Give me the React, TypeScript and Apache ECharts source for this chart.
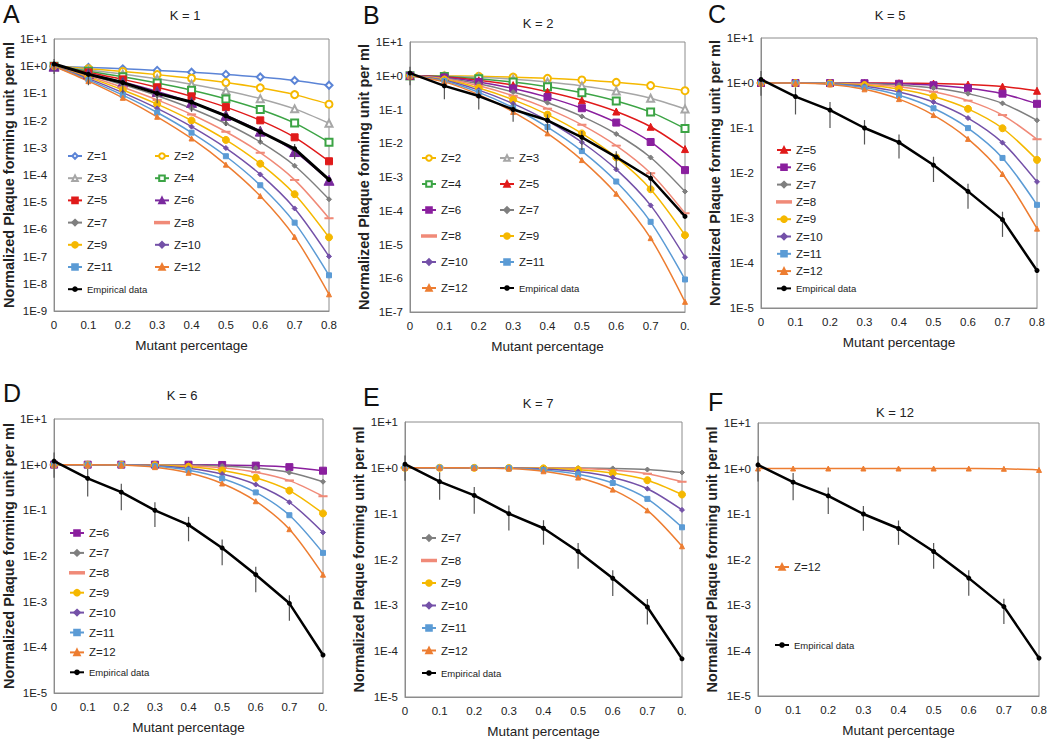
import React, { useEffect, useRef } from "react";
import * as echarts from "echarts";

// ---------- categories / tick labels ----------
const xLabelsFull = ["0", "0.1", "0.2", "0.3", "0.4", "0.5", "0.6", "0.7", "0.8"];
const xLabelsCut = ["0", "0.1", "0.2", "0.3", "0.4", "0.5", "0.6", "0.7", "0."];

// ---------- empirical data (same in every panel) ----------
const empirical = [1.2, 0.5, 0.25, 0.1, 0.048, 0.015, 0.0039, 0.00092, 0.000068];
const empiricalLow = [0.52, 0.2, 0.1, 0.043, 0.021, 0.0063, 0.0016, 0.00038, 0.000066];
const empiricalHigh = [1.85, 0.8, 0.38, 0.15, 0.072, 0.023, 0.0058, 0.00138, 0.00007];

// ---------- Panel A (K = 1) ----------
const A_Z1 = [1, 0.9, 0.8, 0.7, 0.6, 0.5, 0.4, 0.3, 0.2];
const A_Z2 = [1, 0.81, 0.64, 0.49, 0.36, 0.25, 0.16, 0.09, 0.04];
const A_Z3 = [1, 0.729, 0.512, 0.343, 0.216, 0.125, 0.064, 0.027, 0.008];
const A_Z4 = [1, 0.656, 0.41, 0.24, 0.13, 0.0625, 0.0256, 0.0081, 0.0016];
const A_Z5 = [1, 0.59, 0.328, 0.168, 0.0778, 0.0313, 0.0102, 0.00243, 0.00032];
const A_Z6 = [1, 0.531, 0.262, 0.118, 0.0467, 0.0156, 0.0041, 0.00073, 0.000064];
const A_Z7 = [1, 0.478, 0.21, 0.0824, 0.028, 0.0078, 0.00164, 0.000219, 0.0000128];
const A_Z8 = [1, 0.43, 0.168, 0.0576, 0.0168, 0.0039, 0.00066, 0.000066, 0.00000256];
const A_Z9 = [1, 0.387, 0.134, 0.0404, 0.0101, 0.00195, 0.00026, 0.0000197, 5.1e-7];
const A_Z10 = [1, 0.349, 0.107, 0.0282, 0.006, 0.00098, 0.000105, 0.0000059, 1.02e-7];
const A_Z11 = [1, 0.314, 0.086, 0.0198, 0.0036, 0.00049, 0.000042, 0.00000177, 2.05e-8];
const A_Z12 = [1, 0.282, 0.0687, 0.0138, 0.0022, 0.00024, 0.0000168, 5.3e-7, 4.1e-9];

// ---------- Panel B (K = 2) ----------
const B_Z2 = [1, 0.99, 0.96, 0.91, 0.84, 0.75, 0.64, 0.51, 0.36];
const B_Z3 = [1, 0.972, 0.896, 0.784, 0.648, 0.5, 0.352, 0.216, 0.104];
const B_Z4 = [1, 0.948, 0.819, 0.652, 0.475, 0.3125, 0.179, 0.0837, 0.0272];
const B_Z5 = [1, 0.919, 0.737, 0.528, 0.337, 0.1875, 0.087, 0.0308, 0.00672];
const B_Z6 = [1, 0.886, 0.655, 0.42, 0.233, 0.109, 0.041, 0.0109, 0.0016];
const B_Z7 = [1, 0.85, 0.577, 0.329, 0.159, 0.0625, 0.0188, 0.00379, 0.000371];
const B_Z8 = [1, 0.813, 0.503, 0.255, 0.106, 0.0352, 0.0085, 0.00129, 0.000084];
const B_Z9 = [1, 0.775, 0.436, 0.196, 0.0705, 0.0195, 0.0038, 0.000433, 0.0000189];
const B_Z10 = [1, 0.736, 0.376, 0.149, 0.0464, 0.0107, 0.00168, 0.000144, 0.0000042];
const B_Z11 = [1, 0.697, 0.322, 0.113, 0.0302, 0.00586, 0.000734, 0.000047, 9.2e-7];
const B_Z12 = [1, 0.659, 0.275, 0.085, 0.0196, 0.00317, 0.000319, 0.0000154, 2.0e-7];

// ---------- Panel C (K = 5) ----------
const C_Z5 = [1, 1, 0.9997, 0.9976, 0.9898, 0.9688, 0.9222, 0.8319, 0.6723];
const C_Z6 = [1, 1, 0.9984, 0.9891, 0.959, 0.8906, 0.7667, 0.5798, 0.3446];
const C_Z7 = [1, 0.9998, 0.9953, 0.9712, 0.9037, 0.7734, 0.5801, 0.3529, 0.148];
const C_Z8 = [1, 0.9996, 0.9896, 0.942, 0.8263, 0.6367, 0.4059, 0.1941, 0.0563];
const C_Z9 = [1, 0.9991, 0.9804, 0.9012, 0.7334, 0.5, 0.2666, 0.0988, 0.0196];
const C_Z10 = [1, 0.9984, 0.9672, 0.8497, 0.6331, 0.377, 0.1662, 0.0473, 0.00637];
const C_Z11 = [1, 0.9972, 0.9496, 0.7897, 0.5328, 0.2744, 0.0994, 0.0216, 0.00196];
const C_Z12 = [1, 0.9957, 0.9274, 0.7237, 0.4382, 0.1938, 0.0573, 0.0095, 0.00058];

// ---------- Panel D (K = 6) ----------
const D_Z6 = [1, 1, 0.9999, 0.9993, 0.9959, 0.9844, 0.9533, 0.8824, 0.7379];
const D_Z7 = [1, 1, 0.9996, 0.9962, 0.9812, 0.9375, 0.8414, 0.6706, 0.4233];
const D_Z8 = [1, 1, 0.9988, 0.9887, 0.9502, 0.8555, 0.6846, 0.4482, 0.2031];
const D_Z9 = [1, 0.9999, 0.9969, 0.9747, 0.9006, 0.7461, 0.5174, 0.2703, 0.0856];
const D_Z10 = [1, 0.9999, 0.9936, 0.9527, 0.8338, 0.623, 0.3669, 0.1503, 0.0328];
const D_Z11 = [1, 0.9997, 0.9883, 0.9218, 0.7535, 0.5, 0.2465, 0.0782, 0.0117];
const D_Z12 = [1, 0.9995, 0.9806, 0.8822, 0.6652, 0.3872, 0.1582, 0.0386, 0.0039];

// ---------- Panel E (K = 7) ----------
const E_Z7 = [1, 1, 1, 0.9998, 0.9984, 0.9922, 0.972, 0.9176, 0.7903];
const E_Z8 = [1, 1, 0.9999, 0.9987, 0.9915, 0.9648, 0.8936, 0.7447, 0.4967];
const E_Z9 = [1, 1, 0.9997, 0.9957, 0.975, 0.9102, 0.7682, 0.5372, 0.2618];
const E_Z10 = [1, 1, 0.9991, 0.9894, 0.9452, 0.8281, 0.6177, 0.3504, 0.1209];
const E_Z11 = [1, 1, 0.998, 0.9784, 0.9006, 0.7256, 0.4672, 0.2103, 0.0504];
const E_Z12 = [1, 0.9999, 0.9961, 0.9614, 0.8418, 0.6128, 0.3348, 0.1178, 0.0194];

// ---------- Panel F (K = 12) ----------
const F_Z12 = [1, 1, 1, 1, 1, 0.9998, 0.9978, 0.9862, 0.9313];

const FONT = '"Liberation Sans", Arial, sans-serif';

type SeriesDef = { z: number; data: number[] };
type LegendCol = { left: number; top: number; gap: number; items: (number | "E")[] };
type Panel = {
  id: string;
  letter: string;
  title: string;
  grid: { left: number; top: number; width: number; height: number };
  yMin: number;
  xLabels: string[];
  yNameGap: number;
  series: SeriesDef[];
  legends: LegendCol[];
  titleXY: [number, number];
  letterXY: [number, number];
};

const panels: Panel[] = [
  {
    id: "A", letter: "A", title: "K = 1",
    grid: { left: 53, top: 39, width: 276, height: 272 },
    yMin: 1e-9, xLabels: xLabelsFull, yNameGap: 35,
    series: [
      { z: 1, data: A_Z1 }, { z: 2, data: A_Z2 }, { z: 3, data: A_Z3 }, { z: 4, data: A_Z4 },
      { z: 5, data: A_Z5 }, { z: 6, data: A_Z6 }, { z: 7, data: A_Z7 }, { z: 8, data: A_Z8 },
      { z: 9, data: A_Z9 }, { z: 10, data: A_Z10 }, { z: 11, data: A_Z11 }, { z: 12, data: A_Z12 },
    ],
    legends: [
      { left: 67, top: 150, gap: 10.2, items: [1, 3, 5, 7, 9, 11, "E"] },
      { left: 154, top: 150, gap: 10.2, items: [2, 4, 6, 8, 10, 12] },
    ],
    titleXY: [185, 15], letterXY: [3, 14],
  },
  {
    id: "B", letter: "B", title: "K = 2",
    grid: { left: 410, top: 42, width: 275, height: 270 },
    yMin: 1e-7, xLabels: xLabelsCut, yNameGap: 34,
    series: [
      { z: 2, data: B_Z2 }, { z: 3, data: B_Z3 }, { z: 4, data: B_Z4 }, { z: 5, data: B_Z5 },
      { z: 6, data: B_Z6 }, { z: 7, data: B_Z7 }, { z: 8, data: B_Z8 }, { z: 9, data: B_Z9 },
      { z: 10, data: B_Z10 }, { z: 11, data: B_Z11 }, { z: 12, data: B_Z12 },
    ],
    legends: [
      { left: 421, top: 152, gap: 14, items: [2, 4, 6, 8, 10, 12] },
      { left: 499, top: 152, gap: 14, items: [3, 5, 7, 9, 11, "E"] },
    ],
    titleXY: [538, 23], letterXY: [363, 15],
  },
  {
    id: "C", letter: "C", title: "K = 5",
    grid: { left: 761, top: 38, width: 276, height: 270 },
    yMin: 1e-5, xLabels: xLabelsFull, yNameGap: 38,
    series: [
      { z: 5, data: C_Z5 }, { z: 6, data: C_Z6 }, { z: 7, data: C_Z7 }, { z: 8, data: C_Z8 },
      { z: 9, data: C_Z9 }, { z: 10, data: C_Z10 }, { z: 11, data: C_Z11 }, { z: 12, data: C_Z12 },
    ],
    legends: [{ left: 776, top: 144, gap: 5.3, items: [5, 6, 7, 8, 9, 10, 11, 12, "E"] }],
    titleXY: [890, 15], letterXY: [708, 14],
  },
  {
    id: "D", letter: "D", title: "K = 6",
    grid: { left: 53, top: 419, width: 270, height: 274 },
    yMin: 1e-5, xLabels: xLabelsCut, yNameGap: 37,
    series: [
      { z: 6, data: D_Z6 }, { z: 7, data: D_Z7 }, { z: 8, data: D_Z8 }, { z: 9, data: D_Z9 },
      { z: 10, data: D_Z10 }, { z: 11, data: D_Z11 }, { z: 12, data: D_Z12 },
    ],
    legends: [{ left: 69, top: 527, gap: 7.9, items: [6, 7, 8, 9, 10, 11, 12, "E"] }],
    titleXY: [182, 395], letterXY: [3, 393],
  },
  {
    id: "E", letter: "E", title: "K = 7",
    grid: { left: 405, top: 422, width: 277, height: 276 },
    yMin: 1e-5, xLabels: xLabelsCut, yNameGap: 32,
    series: [
      { z: 7, data: E_Z7 }, { z: 8, data: E_Z8 }, { z: 9, data: E_Z9 },
      { z: 10, data: E_Z10 }, { z: 11, data: E_Z11 }, { z: 12, data: E_Z12 },
    ],
    legends: [{ left: 421, top: 532, gap: 10.5, items: [7, 8, 9, 10, 11, 12, "E"] }],
    titleXY: [538, 403], letterXY: [363, 397],
  },
  {
    id: "F", letter: "F", title: "K = 12",
    grid: { left: 758, top: 423, width: 283, height: 273 },
    yMin: 1e-5, xLabels: xLabelsFull, yNameGap: 35,
    series: [{ z: 12, data: F_Z12 }],
    legends: [{ left: 774, top: 561, gap: 66, items: [12, "E"] }],
    titleXY: [895, 412], letterXY: [708, 402],
  },
];

function markerStyle(panelId: string, z: number) {
  const base: Record<number, { symbol: string; size: any; color: string }> = {
    1: { symbol: "emptyDiamond", size: 7, color: "#5b84d6" },
    2: { symbol: "emptyCircle", size: 7, color: "#f5b800" },
    3: { symbol: "emptyTriangle", size: 7, color: "#a6a6a6" },
    4: { symbol: "emptyRect", size: 7, color: "#3ca445" },
    5: { symbol: "triangle", size: 7, color: "#e01a1a" },
    6: { symbol: "rect", size: 7, color: "#8a1f9e" },
    7: { symbol: "diamond", size: 5, color: "#7f7f7f" },
    8: { symbol: "rect", size: [7, 1.5], color: "#f08a78" },
    9: { symbol: "circle", size: 7, color: "#f5b800" },
    10: { symbol: "diamond", size: 5, color: "#7451a8" },
    11: { symbol: "rect", size: 5, color: "#5b9bd5" },
    12: { symbol: "triangle", size: 5, color: "#ed7d31" },
  };
  const s = { ...base[z] };
  if (panelId === "A" && z === 5) s.symbol = "rect";
  if (panelId === "A" && z === 6) { s.symbol = "triangle"; s.size = 10; s.color = "#7a2a9e"; }
  return s;
}

function logLabel(v: number) {
  const e = Math.round(Math.log10(v));
  return "1E" + (e >= 0 ? "+" : "-") + Math.abs(e);
}

function buildOption() {
  const grid: any[] = [];
  const xAxis: any[] = [];
  const yAxis: any[] = [];
  const series: any[] = [];
  const legend: any[] = [];
  const graphic: any[] = [];

  panels.forEach((p, i) => {
    grid.push({
      left: p.grid.left, top: p.grid.top, width: p.grid.width, height: p.grid.height,
      show: true, borderColor: "#8c8c8c", borderWidth: 1, backgroundColor: "transparent",
    });
    xAxis.push({
      type: "category", gridIndex: i, data: p.xLabels, boundaryGap: false,
      axisLine: { lineStyle: { color: "#8c8c8c", width: 1 } },
      axisTick: { show: false },
      splitLine: { show: false },
      axisLabel: { fontSize: 11.5, color: "#222", margin: 8, interval: 0, fontFamily: FONT },
      name: "Mutant percentage", nameLocation: "middle", nameGap: 27,
      nameTextStyle: { fontSize: 13.5, color: "#222", fontFamily: FONT },
    });
    yAxis.push({
      type: "log", logBase: 10, gridIndex: i, min: p.yMin, max: 10, interval: 1, splitNumber: 10,
      axisLine: { show: true, lineStyle: { color: "#8c8c8c", width: 1 } },
      axisTick: { show: false },
      splitLine: { show: false },
      minorTick: { show: false },
      axisLabel: { fontSize: 11.5, color: "#222", margin: 7, fontFamily: FONT, formatter: logLabel },
      name: "Normalized Plaque forming unit per ml", nameLocation: "middle", nameGap: p.yNameGap,
      nameRotate: 90,
      nameTextStyle: { fontSize: 14.5, color: "#222", fontWeight: "bold", fontFamily: FONT },
    });

    p.series.forEach((s) => {
      const m = markerStyle(p.id, s.z);
      series.push({
        name: `${p.id}|Z=${s.z}`, type: "line", xAxisIndex: i, yAxisIndex: i,
        data: s.data, smooth: 0.3, symbol: m.symbol, symbolSize: m.size,
        itemStyle: { color: m.color, borderColor: m.color, borderWidth: 1 },
        lineStyle: { color: m.color, width: 1.5 }, z: 2, animation: false,
      });
    });

    series.push({
      type: "custom", xAxisIndex: i, yAxisIndex: i, silent: true, z: 3,
      data: empirical.map((_, k) => [k, empiricalLow[k], empiricalHigh[k]]),
      encode: { x: 0, y: [1, 2] },
      renderItem: (params: any, api: any) => {
        const x = api.value(0);
        const a = api.coord([x, api.value(1)]);
        const b = api.coord([x, api.value(2)]);
        return {
          type: "line",
          shape: { x1: a[0], y1: a[1], x2: b[0], y2: b[1] },
          style: { stroke: "#555", lineWidth: 1.2 },
        };
      },
    });

    series.push({
      name: `${p.id}|Empirical data`, type: "line", xAxisIndex: i, yAxisIndex: i,
      data: empirical, symbol: "circle", symbolSize: 5,
      itemStyle: { color: "#000" }, lineStyle: { color: "#000", width: p.id === "A" ? 3 : 2.5 },
      z: 4,
    });

    p.legends.forEach((lc) => {
      legend.push({
        orient: "vertical", left: lc.left, top: lc.top, itemGap: lc.gap, padding: 0,
        itemWidth: 14, itemHeight: 7, selectedMode: false,
        formatter: (n: string) => n.split("|")[1],
        textStyle: { fontSize: 11.5, color: "#222", fontFamily: FONT, lineHeight: 12 },
        data: lc.items.map((it) =>
          it === "E"
            ? { name: `${p.id}|Empirical data`, textStyle: { fontSize: 9.5 } }
            : it === 8
            ? { name: `${p.id}|Z=8`, icon: "path://M0,0H14V1.5H0Z" }
            : { name: `${p.id}|Z=${it}` }
        ),
      });
    });

    graphic.push({
      type: "text", x: p.titleXY[0], y: p.titleXY[1],
      style: { text: p.title, fontSize: 13, fontFamily: FONT, fill: "#222", align: "center", verticalAlign: "middle" },
    });
    graphic.push({
      type: "text", x: p.letterXY[0], y: p.letterXY[1],
      style: { text: p.letter, fontSize: 25, fontFamily: FONT, fill: "#111", align: "left", verticalAlign: "middle" },
    });
  });

  return {
    animation: false,
    backgroundColor: "#fff",
    grid, xAxis, yAxis, series, legend, graphic,
  };
}

export default function App() {
  const ref = useRef<HTMLDivElement>(null);
  useEffect(() => {
    if (!ref.current) return;
    const chart = echarts.init(ref.current, undefined, { renderer: "svg" });
    chart.setOption(buildOption() as any);
    return () => chart.dispose();
  }, []);
  return (
    <div
      ref={ref}
      style={{ position: "absolute", left: 0, top: 0, width: 1050, height: 739, background: "#fff" }}
    />
  );
}
